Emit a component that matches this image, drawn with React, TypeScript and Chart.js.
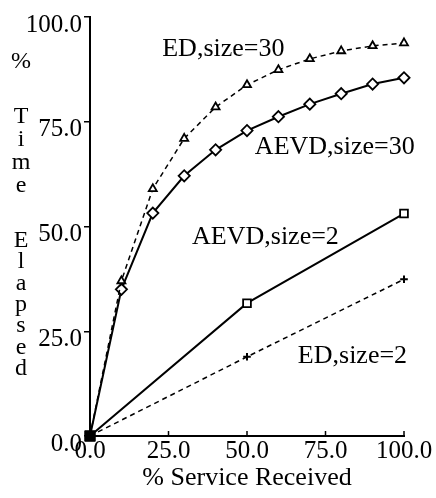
import React, { useEffect, useRef } from "react";
import { Chart, registerables } from "chart.js";

Chart.register(...registerables);

// % service received for the size=30 runs (every 10%)
const service30 = [0, 10, 20, 30, 40, 50, 60, 70, 80, 90, 100];
const edSize30 = [0, 37, 59, 71, 78.5, 83.8, 87.4, 90, 91.9, 93.1, 93.8];
const aevdSize30 = [0, 35, 53.2, 62.1, 68.3, 72.9, 76.2, 79.2, 81.7, 84, 85.5];

// % service received for the size=2 runs
const service2 = [0, 50, 100];
const aevdSize2 = [0, 31.7, 53.1];
const edSize2 = [0, 18.9, 37.4];

const tickValues = [0, 25, 50, 75, 100];

// curve captions: text and the data point their left edge / middle sit at
const captions = [
  { text: "ED,size=30", x: 23, y: 92.4 },
  { text: "AEVD,size=30", x: 52.5, y: 69 },
  { text: "AEVD,size=2", x: 32.5, y: 47.4 },
  { text: "ED,size=2", x: 66.2, y: 19 },
];

const yTitleGroups = [
  { chars: ["%"], baseline: 68, step: 0 },
  { chars: ["T", "i", "m", "e"], baseline: 123, step: 23 },
  { chars: ["E", "l", "a", "p", "s", "e", "d"], baseline: 247, step: 21.3 },
];

const SERIF = "'Liberation Serif', 'Times New Roman', serif";

const toPoints = (xs: number[], ys: number[]) => xs.map((x, i) => ({ x, y: ys[i] }));

const markerOptions = (style: string, radius: number, width: number) => ({
  pointStyle: (c: any) => (c.dataIndex === 0 ? "rect" : style),
  pointRadius: (c: any) => (c.dataIndex === 0 ? 6.2 : radius),
  pointBackgroundColor: (c: any) => (c.dataIndex === 0 ? "#000" : "#fff"),
  pointBorderColor: "#000",
  pointBorderWidth: width,
});

const decorPlugin = {
  id: "decor",
  afterDraw(chart: any) {
    const { ctx, chartArea, scales } = chart;
    const xs = scales.x;
    const ys = scales.y;
    ctx.save();
    // inward tick marks along the x axis
    ctx.strokeStyle = "#000";
    ctx.lineWidth = 1.5;
    tickValues.forEach((v) => {
      const px = xs.getPixelForValue(v);
      ctx.beginPath();
      ctx.moveTo(px, chartArea.bottom);
      ctx.lineTo(px, chartArea.bottom - 5);
      ctx.stroke();
    });
    // curve captions
    ctx.fillStyle = "#000";
    ctx.font = `26px ${SERIF}`;
    ctx.textAlign = "left";
    ctx.textBaseline = "middle";
    captions.forEach((c) => {
      ctx.fillText(c.text, xs.getPixelForValue(c.x), ys.getPixelForValue(c.y));
    });
    // stacked y-axis title
    ctx.font = `24px ${SERIF}`;
    ctx.textAlign = "center";
    ctx.textBaseline = "alphabetic";
    yTitleGroups.forEach((g) => {
      g.chars.forEach((ch, i) => {
        ctx.fillText(ch, 21, g.baseline + i * g.step);
      });
    });
    ctx.restore();
  },
};

function App() {
  const canvasRef = useRef<HTMLCanvasElement>(null);

  useEffect(() => {
    const canvas = canvasRef.current;
    if (!canvas) return;
    const chart = new Chart(canvas, {
      type: "scatter",
      data: {
        datasets: [
          {
            label: "ED,size=2",
            data: toPoints(service2, edSize2),
            showLine: true,
            borderColor: "#000",
            borderWidth: 1.5,
            borderDash: [5, 4],
            clip: false,
            ...markerOptions("cross", 3.8, 2),
          },
          {
            label: "AEVD,size=2",
            data: toPoints(service2, aevdSize2),
            showLine: true,
            borderColor: "#000",
            borderWidth: 2,
            clip: false,
            ...markerOptions("rect", 5.5, 1.8),
          },
          {
            label: "ED,size=30",
            data: toPoints(service30, edSize30),
            showLine: true,
            borderColor: "#000",
            borderWidth: 1.5,
            borderDash: [5, 4],
            clip: false,
            ...markerOptions("triangle", 4.6, 1.8),
          },
          {
            label: "AEVD,size=30",
            data: toPoints(service30, aevdSize30),
            showLine: true,
            borderColor: "#000",
            borderWidth: 2,
            clip: false,
            ...markerOptions("rectRot", 5.6, 1.8),
          },
        ],
      } as any,
      options: {
        responsive: false,
        animation: false,
        devicePixelRatio: 1,
        layout: { padding: { top: 16, right: 32, left: 0, bottom: 0 } },
        plugins: {
          legend: { display: false },
          tooltip: { enabled: false },
        },
        scales: {
          x: {
            type: "linear",
            min: 0,
            max: 100,
            afterFit: (s: any) => {
              s.height = 62;
            },
            afterBuildTicks: (s: any) => {
              s.ticks = tickValues.map((v) => ({ value: v }));
            },
            grid: { display: true, drawOnChartArea: false, drawTicks: false },
            border: { display: true, color: "#000", width: 2 },
            ticks: {
              color: "#000",
              padding: 0,
              maxRotation: 0,
              font: { family: SERIF, size: 25 },
              callback: (v: any) => Number(v).toFixed(1),
            },
            title: {
              display: true,
              text: "% Service Received",
              color: "#000",
              font: { family: SERIF, size: 26 },
              padding: { top: 0, bottom: 4 },
            },
          },
          y: {
            type: "linear",
            min: 0,
            max: 100,
            afterFit: (s: any) => {
              s.width = 90;
            },
            afterBuildTicks: (s: any) => {
              s.ticks = tickValues.map((v) => ({ value: v }));
            },
            grid: {
              display: true,
              drawOnChartArea: false,
              drawTicks: true,
              tickLength: 6,
              color: "#000",
              lineWidth: 1.5,
            },
            border: { display: true, color: "#000", width: 2 },
            ticks: {
              color: "#000",
              padding: 2,
              labelOffset: 8,
              font: { family: SERIF, size: 25 },
              callback: (v: any) => Number(v).toFixed(1),
            },
          },
        },
      } as any,
      plugins: [decorPlugin],
    });
    return () => chart.destroy();
  }, []);

  return (
    <div
      style={{
        position: "fixed",
        left: 0,
        top: 0,
        width: 436,
        height: 498,
        background: "#fff",
      }}
    >
      <canvas ref={canvasRef} width={436} height={498} style={{ width: 436, height: 498 }} />
    </div>
  );
}

export default App;
